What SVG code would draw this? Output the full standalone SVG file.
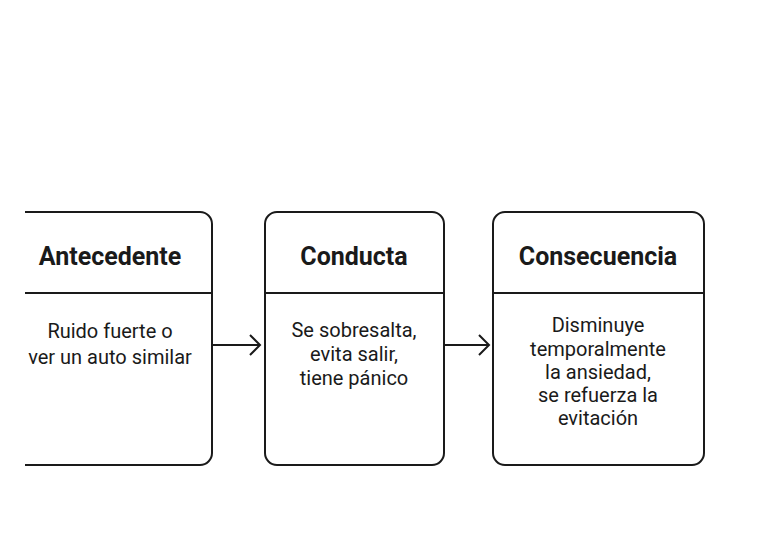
<svg xmlns="http://www.w3.org/2000/svg" width="768" height="543" viewBox="0 0 768 543">
<style>
.b{fill:none;stroke:#1a1a1a;stroke-width:2}
.h{font-family:Roboto,"Liberation Sans",sans-serif;font-size:25px;font-weight:bold;fill:#1a1a1a;text-anchor:middle}
.t{font-family:Roboto,"Liberation Sans",sans-serif;font-size:20px;fill:#1a1a1a;text-anchor:middle}
</style>
<rect width="768" height="543" fill="#fff"/>
<g id="antecedente">
<path class="b" d="M25 212 H200 A12 12 0 0 1 212 224 V453 A12 12 0 0 1 200 465 H25 M25 293 H212"/>
<text class="h" x="110" y="265">Antecedente</text>
<text class="t" x="110" y="338">Ruido fuerte o</text>
<text class="t" x="110" y="364">ver un auto similar</text>
</g>
<g id="conducta">
<rect class="b" x="265" y="212" width="179" height="253" rx="12"/>
<path class="b" d="M265 293 H444"/>
<text class="h" x="354" y="265">Conducta</text>
<text class="t" x="354" y="337">Se sobresalta,</text>
<text class="t" x="354" y="361">evita salir,</text>
<text class="t" x="354" y="385">tiene pánico</text>
</g>
<g id="consecuencia">
<rect class="b" x="493" y="212" width="211" height="253" rx="12"/>
<path class="b" d="M493 293 H704"/>
<text class="h" x="598" y="265">Consecuencia</text>
<text class="t" x="598" y="332">Disminuye</text>
<text class="t" x="598" y="356">temporalmente</text>
<text class="t" x="598" y="379">la ansiedad,</text>
<text class="t" x="598" y="402">se refuerza la</text>
<text class="t" x="598" y="425">evitación</text>
</g>
<g id="connectors">
<path class="b" d="M213 345 H259 M250 335 L260 345 L250 355"/>
<path class="b" d="M445 345 H488 M479 335 L489 345 L479 355"/>
</g>
</svg>
